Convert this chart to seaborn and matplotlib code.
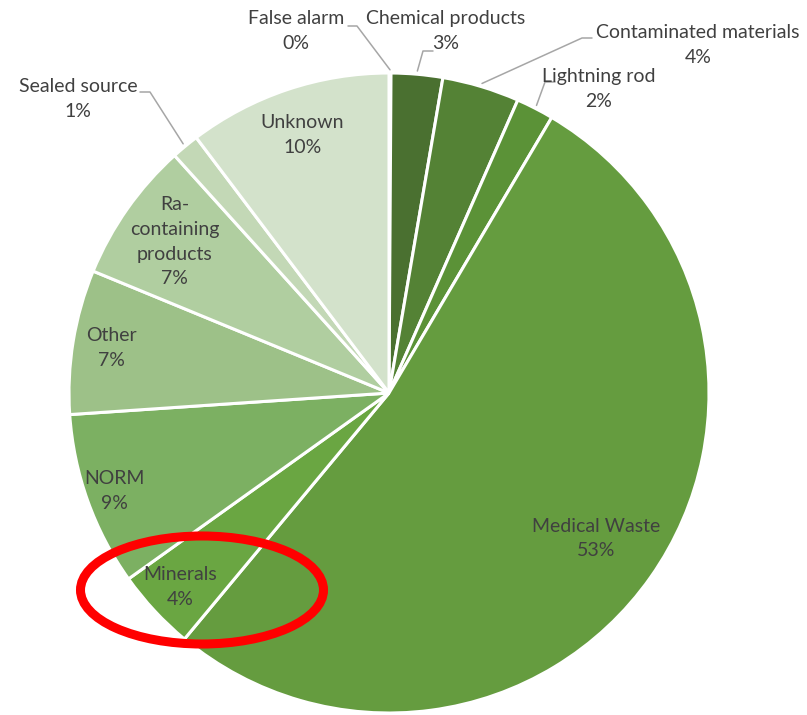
import numpy as np
import matplotlib
matplotlib.use("Agg")
import matplotlib.pyplot as plt
from matplotlib.patches import Ellipse
import seaborn as sns

# data (clockwise from 12 o'clock)
categories = ["False alarm", "Chemical products", "Contaminated materials", "Lightning rod",
              "Medical Waste", "Minerals", "NORM", "Other", "Ra-\ncontaining\nproducts",
              "Sealed source", "Unknown"]
shares = [0.1, 2.6, 3.9, 1.9, 52.6, 4.1, 8.8, 7.3, 7.1, 1.4, 10.3]
colors = ["#4a7a2c", "#4a7030", "#548235", "#5b9237", "#659c3f", "#6aa642",
          "#7cb062", "#9dc188", "#b0cea0", "#c3d8b6", "#d3e2cb"]

sns.set_theme(style="white")
plt.rcParams['font.family'] = ['Lato', 'DejaVu Sans']

W, H = 807, 715
cx, cy, R = 389, H - 393, 320
txt_col = "#404040"
line_col = "#a6a6a6"
fs = 14
lsp = 1.55

fig = plt.figure(figsize=(W / 100, H / 100), dpi=100)
ax = fig.add_axes([0, 0, 1, 1])

pal = sns.color_palette(colors)
wedges, _ = ax.pie(shares, colors=pal, startangle=90, counterclock=False,
                   center=(cx, cy), radius=R, frame=True,
                   wedgeprops=dict(edgecolor="white", linewidth=2.2))
ax.set_xlim(0, W)
ax.set_ylim(0, H)
ax.set_aspect("equal")
ax.axis("off")

total = sum(shares)
pct = [f"{round(v / total * 100):.0f}%" for v in shares]

# labels inside the slice: fraction of radius
inside = {"Medical Waste": 0.79, "Minerals": 0.89, "NORM": 0.91, "Other": 0.88,
          "Ra-\ncontaining\nproducts": 0.82, "Unknown": 0.85}
for w, name, p in zip(wedges, categories, pct):
    if name in inside:
        a = np.deg2rad((w.theta1 + w.theta2) / 2)
        r = inside[name] * R
        ax.text(cx + r * np.cos(a), cy + r * np.sin(a), f"{name}\n{p}",
                ha="center", va="center", fontsize=fs, color=txt_col, linespacing=lsp)

# outside labels: text centre, elbow points (pixel coords from top)
outside = {"False alarm": ((296, 31), [(348, 26), (357, 26)]),
           "Chemical products": ((446, 31), [(433, 51), (423, 51)]),
           "Contaminated materials": ((698, 45), [(592, 38), (582, 38)]),
           "Lightning rod": ((599, 89), [(555, 82), (545, 82)]),
           "Sealed source": ((78, 99), [(140, 92), (150, 92)])}
for w, name, p in zip(wedges, categories, pct):
    if name in outside:
        (tx, ty), elbow = outside[name]
        ax.text(tx, H - ty, f"{name}\n{p}", ha="center", va="center",
                fontsize=fs, color=txt_col, linespacing=lsp)
        a = np.deg2rad((w.theta1 + w.theta2) / 2)
        ex, ey = cx + 1.01 * R * np.cos(a), cy + 1.01 * R * np.sin(a)
        xs = [elbow[0][0], elbow[1][0], ex]
        ys = [H - elbow[0][1], H - elbow[1][1], ey]
        ax.plot(xs, ys, color=line_col, lw=1.1)

# red highlight ellipse
ax.add_patch(Ellipse((202, H - 590), 243, 108, fill=False, edgecolor="#ff0000", lw=6.5))

fig.savefig("out.png", dpi=100, facecolor="white")
